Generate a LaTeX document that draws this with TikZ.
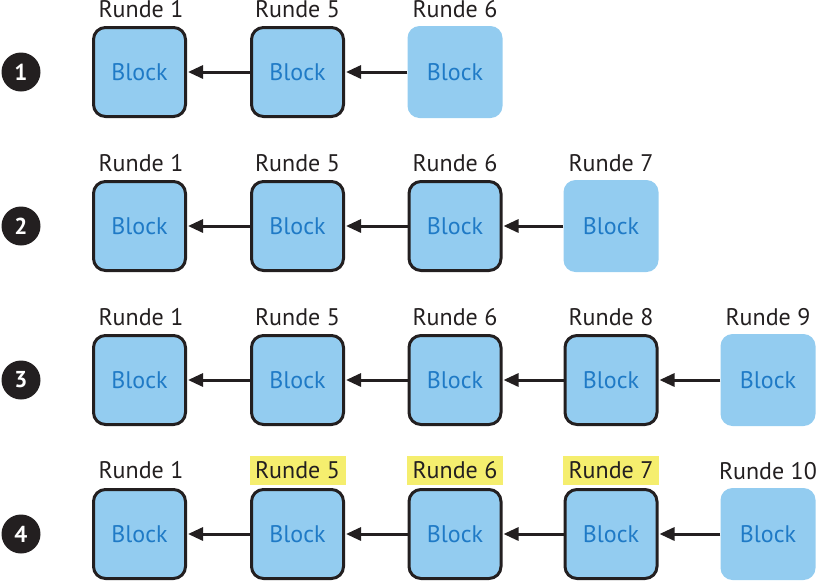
\documentclass[tikz,border=0pt]{standalone}
\usepackage{fontspec}
\setmainfont{PT Sans}
\usetikzlibrary{arrows.meta}
\definecolor{boxfill}{HTML}{93CCF0}
\definecolor{boxtext}{HTML}{1F7AC6}
\definecolor{hl}{HTML}{F5EE6E}
\definecolor{ink}{HTML}{231F20}
\tikzset{
  blk/.style={draw=ink, line width=3pt, fill=boxfill, rounded corners=12pt,
    minimum width=92pt, minimum height=89pt, inner sep=0pt,
    text=boxtext, font=\fontsize{24}{24}\selectfont},
  newblk/.style={fill=boxfill, rounded corners=12pt,
    minimum width=95pt, minimum height=92pt, inner sep=0pt,
    text=boxtext, font=\fontsize{24}{24}\selectfont},
  lbl/.style={text=ink, font=\fontsize{24}{24}\selectfont, inner sep=0pt,
    text height=17pt, text depth=0pt, minimum height=29pt},
  hllbl/.style={lbl, fill=hl, minimum width=96pt},
  num/.style={circle, fill=ink, minimum size=39pt, inner sep=0pt, text=white,
    font=\bfseries\fontsize{23}{23}\selectfont},
  arr/.style={draw=ink, line width=3pt, -{Triangle[length=15pt,width=13pt]}, shorten >=1pt, shorten <=0pt},
}
\begin{document}
\begin{tikzpicture}[x=1pt,y=-1pt]
\useasboundingbox (0,0) rectangle (817,582);
% Row 1
\node[num] (n1) at (21,72) {1};
\node[blk] (a1) at (139.5,72) {Block};
\node[blk] (a2) at (297.5,72) {Block};
\node[newblk] (a3) at (455,72) {Block};
\node[lbl] (la1) at (141,9) {Runde 1};
\node[lbl] (la2) at (297.5,9) {Runde 5};
\node[lbl] (la3) at (455,9) {Runde 6};
\draw[arr] (a2.west) -- (a1.east);
\draw[arr] (a3.west) -- (a2.east);
% Row 2
\node[num] (n2) at (21,226) {2};
\node[blk] (b1) at (139.5,226) {Block};
\node[blk] (b2) at (297.5,226) {Block};
\node[blk] (b3) at (455,226) {Block};
\node[newblk] (b4) at (611,226) {Block};
\node[lbl] (lb1) at (141,163) {Runde 1};
\node[lbl] (lb2) at (297.5,163) {Runde 5};
\node[lbl] (lb3) at (455,163) {Runde 6};
\node[lbl] (lb4) at (611,163) {Runde 7};
\draw[arr] (b2.west) -- (b1.east);
\draw[arr] (b3.west) -- (b2.east);
\draw[arr] (b4.west) -- (b3.east);
% Row 3
\node[num] (n3) at (21,380) {3};
\node[blk] (c1) at (139.5,380) {Block};
\node[blk] (c2) at (297.5,380) {Block};
\node[blk] (c3) at (455,380) {Block};
\node[blk] (c4) at (611,380) {Block};
\node[newblk] (c5) at (768,380) {Block};
\node[lbl] (lc1) at (141,317) {Runde 1};
\node[lbl] (lc2) at (297.5,317) {Runde 5};
\node[lbl] (lc3) at (455,317) {Runde 6};
\node[lbl] (lc4) at (611,317) {Runde 8};
\node[lbl] (lc5) at (768,317) {Runde 9};
\draw[arr] (c2.west) -- (c1.east);
\draw[arr] (c3.west) -- (c2.east);
\draw[arr] (c4.west) -- (c3.east);
\draw[arr] (c5.west) -- (c4.east);
% Row 4
\node[num] (n4) at (21,534) {4};
\node[blk] (d1) at (139.5,534) {Block};
\node[blk] (d2) at (297.5,534) {Block};
\node[blk] (d3) at (455,534) {Block};
\node[blk] (d4) at (611,534) {Block};
\node[newblk] (d5) at (768,534) {Block};
\node[lbl] (ld1) at (141,470) {Runde 1};
\node[hllbl] (ld2) at (297.5,470) {Runde 5};
\node[hllbl] (ld3) at (455,470) {Runde 6};
\node[hllbl] (ld4) at (611,470) {Runde 7};
\node[lbl] (ld5) at (768,471) {Runde 10};
\draw[arr] (d2.west) -- (d1.east);
\draw[arr] (d3.west) -- (d2.east);
\draw[arr] (d4.west) -- (d3.east);
\draw[arr] (d5.west) -- (d4.east);
\end{tikzpicture}
\end{document}
